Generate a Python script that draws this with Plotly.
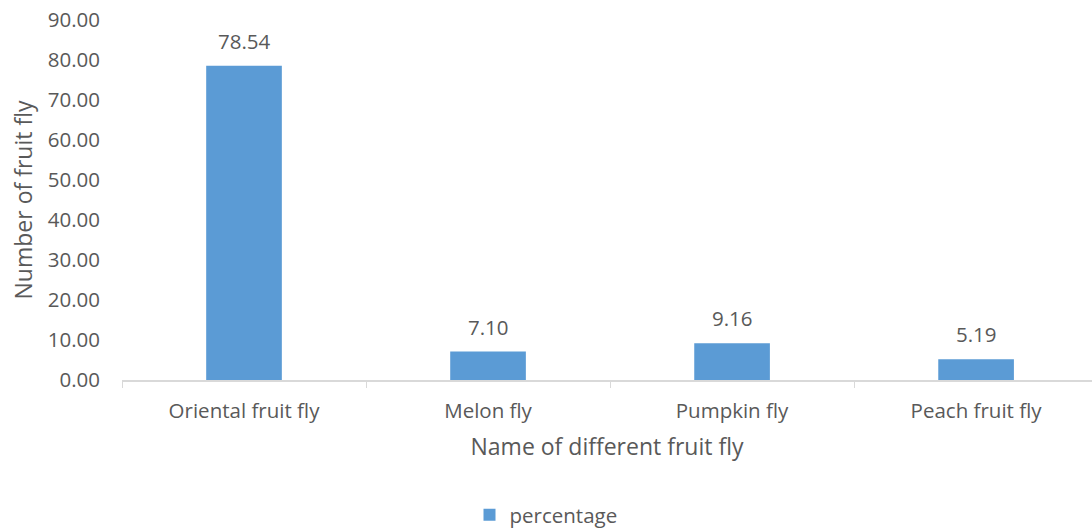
import plotly.graph_objects as go

categories = ["Oriental fruit fly", "Melon fly", "Pumpkin fly", "Peach fruit fly"]
percentage = [78.54, 7.10, 9.16, 5.19]
series_name = "percentage"

TXT = "#595959"
FONT = "Open Sans"

fig = go.Figure()
fig.add_trace(go.Bar(
    x=categories, y=percentage, name=series_name,
    marker=dict(color="#5B9BD5", line=dict(width=0)),
    width=0.31,
    showlegend=True,
))

for c, v in zip(categories, percentage):
    fig.add_annotation(
        x=c, y=v, text=f"{v:.2f}", showarrow=False,
        yanchor="middle", yshift=25,
        font=dict(family=FONT, size=20.5, color=TXT),
    )

fig.update_layout(
    width=1092, height=529,
    margin=dict(l=122, r=0, t=20, b=149),
    plot_bgcolor="white", paper_bgcolor="white",
    font=dict(family=FONT, size=20, color=TXT),
    bargap=0.69,
    xaxis=dict(
        type="category",
        range=[-0.5, 3.475],
        showline=True, linecolor="#D9D9D9", linewidth=1.5,
        ticks="outside", tickson="boundaries", ticklen=6, tickcolor="#D9D9D9",
        tickfont=dict(family=FONT, size=20.5, color=TXT),
        ticklabelstandoff=12,
        title=dict(text="Name of different fruit fly", font=dict(family=FONT, size=23, color=TXT), standoff=16),
        showgrid=False, zeroline=False,
    ),
    yaxis=dict(
        range=[0, 90], dtick=10, tickformat=".2f",
        showline=False, showgrid=False, zeroline=False,
        ticks="", tickfont=dict(family=FONT, size=20.5, color=TXT),
        ticklabelstandoff=21,
        title=dict(text="Number of fruit fly", font=dict(family=FONT, size=23, color=TXT), standoff=8),
    ),
    showlegend=True,
    legend=dict(
        orientation="h", xref="container", yref="container",
        x=546/1092, xanchor="center", y=1-515/529, yanchor="middle",
        font=dict(family=FONT, size=20.5, color=TXT),
        itemwidth=30,
    ),
)

fig.write_html("out.html")
